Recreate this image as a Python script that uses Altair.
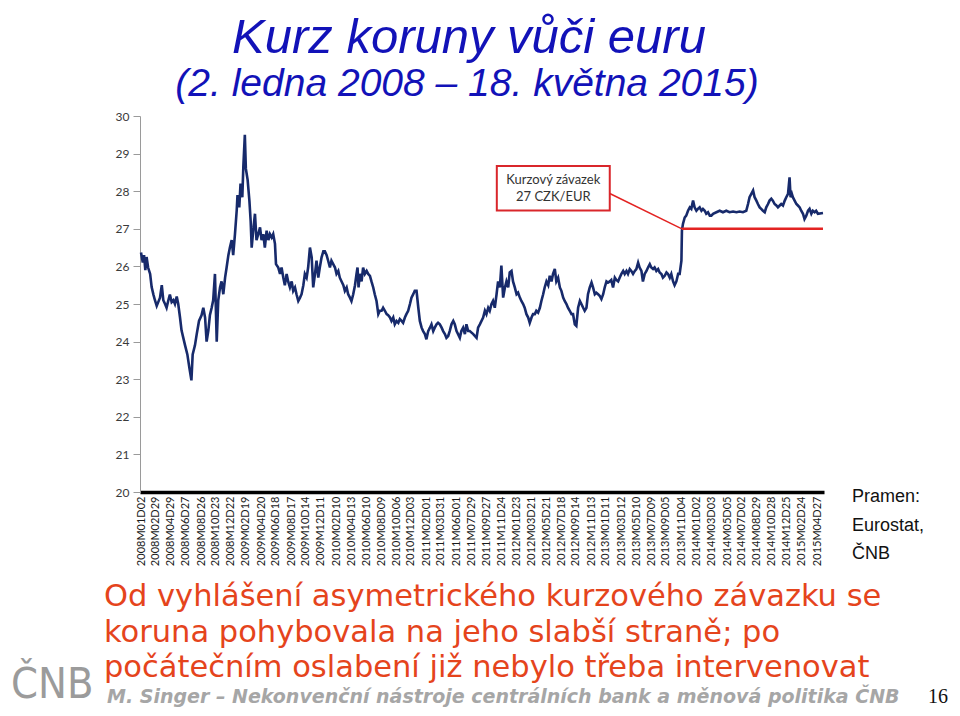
import altair as alt
import pandas as pd

# ---------------- data ----------------
START = "2008-01-02"
END = "2015-05-18"

# days since 2008-01-02
day_offset = [
    0, 7, 12, 17, 22, 28, 36, 42, 49, 55, 62, 68, 75, 82, 88, 95, 101, 108, 114, 121,
    128, 134, 141, 147, 154, 160, 167, 174, 183, 191, 199, 204, 213, 220, 229, 239, 246, 253, 259, 266,
    272, 279, 285, 292, 299, 305, 312, 318, 325, 332, 338, 345, 351, 358, 364, 371, 378, 381, 388, 393,
    400, 404, 410, 414, 421, 428, 433, 437, 443, 450, 456, 463, 470, 476, 483, 489, 496, 503, 509, 516,
    522, 529, 533, 542, 549, 555, 562, 568, 575, 581, 588, 595, 601, 608, 614, 621, 628, 634, 641, 647,
    654, 660, 667, 674, 680, 687, 693, 700, 706, 713, 720, 726, 733, 739, 746, 752, 759, 766, 772, 779,
    785, 792, 799, 805, 812, 818, 825, 831, 838, 845, 851, 855, 859, 864, 871, 877, 884, 891, 897, 904,
    910, 917, 923, 930, 937, 943, 950, 956, 963, 970, 976, 983, 989, 996, 1002, 1009, 1016, 1022, 1029, 1035,
    1042, 1048, 1055, 1062, 1068, 1075, 1081, 1088, 1095, 1101, 1108, 1114, 1121, 1127, 1134, 1141, 1147, 1154, 1160, 1167,
    1173, 1180, 1187, 1193, 1200, 1206, 1213, 1219, 1226, 1233, 1239, 1246, 1252, 1259, 1265, 1272, 1279, 1285, 1292,
    1298, 1312, 1325, 1331, 1338, 1351, 1358, 1364, 1371, 1377, 1384, 1390, 1397, 1404, 1410, 1417, 1423, 1430, 1437, 1443,
    1450, 1456, 1463, 1469, 1476, 1483, 1489, 1496, 1502, 1509, 1515, 1522, 1529, 1535, 1542, 1548, 1555, 1561, 1568, 1575,
    1581, 1588, 1594, 1601, 1608, 1614, 1621, 1627, 1634, 1640, 1647, 1654, 1660, 1667, 1673, 1680, 1686, 1693, 1700, 1706,
    1713, 1719, 1726, 1733, 1739, 1746, 1752, 1759, 1765, 1772, 1779, 1785, 1792, 1798, 1805, 1811, 1818, 1825, 1831, 1838,
    1844, 1851, 1857, 1864, 1871, 1877, 1884, 1890, 1897, 1904, 1910, 1917, 1923, 1930, 1936, 1943, 1950, 1956, 1963, 1969,
    1976, 1982, 1989, 1996, 2002, 2009, 2015, 2022, 2028, 2035, 2042, 2048, 2055, 2061, 2068, 2075, 2081, 2088, 2094, 2101,
    2107, 2114, 2121, 2127, 2134, 2136, 2140, 2147, 2153, 2160, 2167, 2173, 2180, 2186, 2193, 2199, 2206, 2213, 2219, 2226,
    2232, 2239, 2246, 2252, 2259, 2272, 2285, 2298, 2311, 2324, 2338, 2351, 2364, 2377, 2390, 2397, 2403, 2410, 2417, 2423,
    2430, 2436, 2443, 2449, 2456, 2463, 2469, 2476, 2482, 2489, 2495, 2502, 2509, 2515, 2522, 2528, 2535, 2542, 2548, 2555,
    2561, 2565, 2570, 2574, 2581, 2588, 2594, 2601, 2607, 2614, 2620, 2627, 2634, 2640, 2647, 2653, 2660, 2666, 2673, 2693,
]

# CZK per EUR
rate = [
    26.37, 26.10, 26.30, 25.90, 26.25, 25.97, 25.80, 25.45, 25.25, 25.10, 24.95, 25.05, 25.17, 25.50, 25.10, 25.00, 24.90, 25.10, 25.25, 25.05,
    25.10, 25.00, 25.20, 25.00, 24.64, 24.30, 24.10, 23.90, 23.66, 23.30, 22.97, 23.66, 23.90, 24.20, 24.55, 24.70, 24.90, 24.64, 24.00, 24.30,
    24.70, 24.90, 25.10, 25.80, 24.00, 25.10, 25.44, 25.60, 25.26, 25.70, 25.97, 26.30, 26.50, 26.70, 26.30, 26.86, 27.50, 27.90, 27.57, 28.20,
    27.84, 28.64, 29.50, 28.60, 28.30, 27.75, 27.20, 26.50, 26.95, 27.40, 26.70, 26.86, 27.04, 26.70, 26.86, 26.50, 26.95, 26.70, 26.86, 26.77,
    26.86, 26.60, 26.06, 25.97, 25.80, 25.97, 25.70, 25.50, 25.80, 25.60, 25.44, 25.60, 25.35, 25.44, 25.26, 25.08, 25.17, 25.26, 25.50, 25.80,
    25.70, 25.97, 26.50, 26.24, 25.44, 25.80, 26.15, 25.70, 25.97, 26.24, 26.40, 26.40, 26.30, 26.15, 25.97, 26.15, 26.06, 25.97, 25.80, 25.88,
    25.70, 25.60, 25.50, 25.35, 25.44, 25.26, 25.17, 25.08, 25.26, 25.50, 25.80, 25.97, 25.44, 25.80, 25.60, 25.97, 25.80, 25.88, 25.80, 25.75,
    25.60, 25.44, 25.26, 25.08, 24.73, 24.82, 24.82, 24.90, 24.82, 24.73, 24.70, 24.64, 24.55, 24.64, 24.46, 24.55, 24.50, 24.60, 24.55, 24.50,
    24.64, 24.73, 24.82, 25.00, 25.17, 25.26, 25.35, 25.35, 24.90, 24.55, 24.37, 24.28, 24.20, 24.06, 24.28, 24.37, 24.46, 24.28, 24.37, 24.46,
    24.50, 24.46, 24.37, 24.28, 24.20, 24.10, 24.15, 24.28, 24.46, 24.55, 24.46, 24.28, 24.20, 24.10, 24.28, 24.37, 24.20, 24.46, 24.28,
    24.28, 24.20, 24.10, 24.37, 24.46, 24.64, 24.82, 24.73, 24.90, 24.82, 25.00, 25.08, 24.90, 25.26, 25.60, 25.44, 26.02, 25.17, 25.44, 25.60,
    25.44, 25.84, 25.88, 25.60, 25.44, 25.26, 25.30, 25.17, 25.08, 25.00, 24.90, 24.73, 24.64, 24.50, 24.64, 24.73, 24.73, 24.82, 24.77, 24.90,
    25.08, 25.26, 25.44, 25.60, 25.50, 25.75, 25.60, 25.80, 25.93, 25.60, 25.70, 25.44, 25.35, 25.17, 25.08, 25.00, 24.90, 24.82, 24.73, 24.73,
    24.46, 24.42, 24.90, 25.08, 25.00, 24.90, 24.82, 24.90, 25.26, 25.44, 25.57, 25.44, 25.26, 25.30, 25.26, 25.22, 25.13, 25.26, 25.44, 25.60,
    25.57, 25.60, 25.64, 25.44, 25.70, 25.64, 25.60, 25.70, 25.80, 25.88, 25.80, 25.88, 25.80, 25.93, 25.88, 25.80, 25.88, 25.93, 26.10, 25.97,
    25.88, 25.60, 25.80, 25.88, 25.97, 26.06, 25.97, 25.93, 25.97, 25.88, 25.93, 25.84, 25.80, 25.70, 25.75, 25.84, 25.80, 25.70, 25.80, 25.60,
    25.50, 25.60, 25.80, 25.80, 26.15, 26.95, 27.13, 27.30, 27.35, 27.48, 27.57, 27.53, 27.75, 27.57, 27.48, 27.53, 27.57, 27.48, 27.53, 27.48,
    27.40, 27.44, 27.35, 27.35, 27.40, 27.44, 27.48, 27.44, 27.48, 27.44, 27.46, 27.44, 27.46, 27.44, 27.48, 27.66, 27.84, 27.93, 28.02, 27.84,
    27.75, 27.66, 27.57, 27.53, 27.48, 27.44, 27.57, 27.66, 27.75, 27.80, 27.75, 27.66, 27.62, 27.57, 27.62, 27.66, 27.62, 27.75, 27.84, 27.93,
    28.37, 27.84, 27.93, 27.84, 27.75, 27.66, 27.62, 27.57, 27.48, 27.40, 27.26, 27.35, 27.48, 27.53, 27.40, 27.48, 27.44, 27.48, 27.40, 27.42,
]

label_dates = [
    "2008-01-02", "2008-02-29", "2008-04-29", "2008-06-27", "2008-08-26", "2008-10-23", "2008-12-22",
    "2009-02-19", "2009-04-20", "2009-06-18", "2009-08-17", "2009-10-14", "2009-12-11",
    "2010-02-10", "2010-04-13", "2010-06-10", "2010-08-09", "2010-10-06", "2010-12-03",
    "2011-02-01", "2011-03-31", "2011-06-01", "2011-07-29", "2011-09-27", "2011-11-24",
    "2012-01-23", "2012-03-21", "2012-05-21", "2012-07-18", "2012-09-14", "2012-11-13",
    "2013-01-11", "2013-03-12", "2013-05-10", "2013-07-09", "2013-09-05", "2013-11-04",
    "2014-01-02", "2014-03-03", "2014-05-05", "2014-07-02", "2014-08-29", "2014-10-28", "2014-12-25",
    "2015-02-24", "2015-04-27",
]
y_ticks = [20, 21, 22, 23, 24, 25, 26, 27, 28, 29, 30]

PEG_START = "2013/11/07"
PEG_LEVEL = 27.0

# annotation box (data coordinates)
BOX_X0, BOX_X1 = "2011/11/07", "2013/01/26"
BOX_Y0, BOX_Y1 = 27.49, 28.67
BOX_MID = "2012/06/17"
BOX_LINES = ["Kurzový závazek", "27 CZK/EUR"]
BOX_LINE_Y = [28.29, 27.84]
CONN_Y0 = 27.94

BODY_TEXT = ("Od vyhlášení asymetrického kurzového závazku se\n"
             "koruna pohybovala na jeho slabší straně; po\n"
             "počátečním oslabení již nebylo třeba intervenovat")
SOURCE_TEXT = "Pramen:\nEurostat,\nČNB"

# ---------------- build tables ----------------
base = pd.Timestamp(START)
df = pd.DataFrame({
    "date": [(base + pd.Timedelta(days=d)).strftime("%Y/%m/%d") for d in day_offset],
    "rate": rate,
})


def dt(s):
    y, m, d = (int(v) for v in s.split("-"))
    return alt.DateTime(year=y, month=m, date=d)


x_scale = alt.Scale(domain=[alt.DateTime(year=2007, month=12, date=29),
                            alt.DateTime(year=2015, month=5, date=22)])
y_scale = alt.Scale(domain=[20, 30], nice=False, zero=False)

x_axis = alt.Axis(values=[dt(s) for s in label_dates], format="%YM%mD%d", labelAngle=270,
                  labelFont="Lato", labelFontSize=11, labelColor="#1a1a1a", ticks=False,
                  domainColor="#000000", domainWidth=3.5, labelPadding=4, labelOverlap=False,
                  labelFlush=False, grid=False, title=None)
y_axis = alt.Axis(values=y_ticks, format="d", labelFont="Lato", labelFontSize=12,
                  labelColor="#3a3a3a", tickColor="#9a9a9a", tickSize=7, domainColor="#9a9a9a",
                  labelPadding=4, labelOverlap=False, grid=False, title=None)


def X(field):
    return alt.X(field, type="temporal", scale=x_scale, axis=x_axis)


def Y(field):
    return alt.Y(field, type="quantitative", scale=y_scale, axis=y_axis)


line = alt.Chart(df).mark_line(color="#172a6b", strokeWidth=2.6).encode(x=X("date"), y=Y("rate"))

peg = alt.Chart(pd.DataFrame({"s": [PEG_START], "e": [END.replace("-", "/")], "v": [PEG_LEVEL]})).mark_rule(
    color="#e32322", strokeWidth=2.5).encode(x=X("s"), x2="e", y=Y("v"))

conn = alt.Chart(pd.DataFrame({"s": [BOX_X1], "e": [PEG_START], "v0": [CONN_Y0], "v1": [PEG_LEVEL]})).mark_rule(
    color="#e32322", strokeWidth=1.5).encode(x=X("s"), x2="e", y=Y("v0"), y2="v1")

box = alt.Chart(pd.DataFrame({"s": [BOX_X0], "e": [BOX_X1], "v0": [BOX_Y0], "v1": [BOX_Y1]})).mark_rect(
    fill="white", stroke="#d9262b", strokeWidth=2).encode(x=X("s"), x2="e", y=Y("v0"), y2="v1")

box_text = alt.Chart(pd.DataFrame({"d": [BOX_MID] * 2, "v": BOX_LINE_Y, "t": BOX_LINES})).mark_text(
    font="Lato", fontSize=13, color="#333333", align="center", baseline="middle").encode(
    x=X("d"), y=Y("v"), text="t:N")


def txt(text, x, y, **kw):
    return alt.Chart(pd.DataFrame({"t": [text]})).mark_text(**kw).encode(
        x=alt.value(x), y=alt.value(y), text="t:N")


title_kw = dict(font="Liberation Sans", fontStyle="italic", align="center", baseline="alphabetic",
                color="#1212b8")
texts = [
    txt("Kurz koruny vůči euru", 329, -63, fontSize=49, **title_kw),
    txt("(2. ledna 2008 – 18. května 2015)", 327, -20, fontSize=39, **title_kw),
    txt(BODY_TEXT, -36, 490, font="DejaVu Sans", fontSize=30.5, color="#e5441c", align="left",
        baseline="alphabetic", lineBreak="\n", lineHeight=35.5),
    txt("M. Singer – Nekonvenční nástroje centrálních bank a měnová politika ČNB", -33, 587,
        font="DejaVu Sans", fontSize=19, fontWeight="bold", fontStyle="italic", color="#a6a6a6",
        align="left", baseline="alphabetic"),
    txt("16", 798, 587, font="Liberation Serif", fontSize=20, color="#111111", align="center",
        baseline="alphabetic"),
    txt("ČNB", -129, 582, font="'DejaVu Sans Condensed', 'Liberation Sans Narrow', Roboto, sans-serif",
        fontSize=43, color="#9b9b9b", align="left", baseline="alphabetic"),
    txt(SOURCE_TEXT, 712, 386, font="Liberation Sans", fontSize=18, color="#111111", align="left",
        baseline="alphabetic", lineBreak="\n", lineHeight=28.5),
]

chart = alt.layer(line, peg, conn, box, box_text, *texts).properties(
    width=684, height=376,
    autosize=alt.AutoSizeParams(type="none"),
    padding={"left": 132, "top": 108, "right": 128, "bottom": 216},
    background="white",
).configure_view(stroke=None).configure_axis(labelOverlap=False)

chart.save("out.html", embed_options={"renderer": "svg", "actions": False})
